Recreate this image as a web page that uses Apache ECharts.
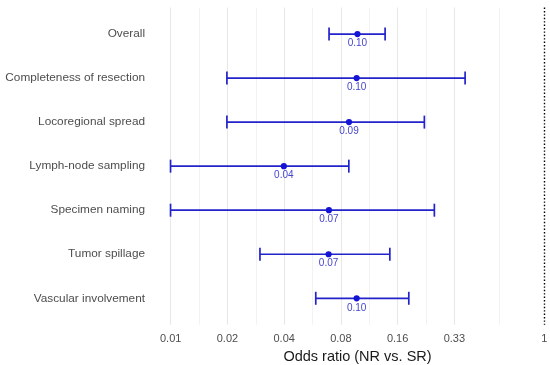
<!DOCTYPE html>
<html>
<head>
<meta charset="utf-8">
<script src="https://cdn.jsdelivr.net/npm/echarts@6/dist/echarts.min.js"></script>
<style>html,body{margin:0;padding:0;background:#fff}#c{width:550px;height:365px}</style>
</head>
<body>
<div id="c"></div>
<script>
// ---- data ----
const categories = ['Overall', 'Completeness of resection', 'Locoregional spread', 'Lymph-node sampling', 'Specimen naming', 'Tumor spillage', 'Vascular involvement'];
const oddsRatio = [0.102, 0.101, 0.092, 0.0415, 0.072, 0.0717, 0.101];
const ciLow = [0.0721, 0.0207, 0.0207, 0.0104, 0.0104, 0.031, 0.0613];
const ciHigh = [0.143, 0.380, 0.231, 0.0918, 0.261, 0.1515, 0.191];
const pointLabels = ['0.10', '0.10', '0.09', '0.04', '0.07', '0.07', '0.10'];
const tickValues = [1/96, 1/48, 1/24, 1/12, 1/6, 1/3, 1];
const tickLabels = ['0.01', '0.02', '0.04', '0.08', '0.16', '0.33', '1'];
const refValue = 1;

// log2 scale transform (axis in log space)
const tr = v => Math.log2(v * 96);
const majorU = tickValues.map(tr);
const minorU = [];
for (let i = 0; i < majorU.length - 1; i++) minorU.push((majorU[i] + majorU[i + 1]) / 2);
const span = majorU[majorU.length - 1] - majorU[0];
const pad = span * 0.05;

const barData = categories.map((c, i) => [i, tr(ciLow[i]), tr(oddsRatio[i]), tr(ciHigh[i])]);

const chart = echarts.init(document.getElementById('c'), null, {renderer: 'canvas'});
const FONT = '"Liberation Sans", Arial, sans-serif';
const BLUE = '#2323cc';

chart.setOption({
  animation: false,
  grid: {left: 152, top: 7.6, width: 411, bottom: 40.3, outerBoundsMode: 'none', containLabel: false},
  xAxis: {
    type: 'value',
    min: majorU[0] - pad,
    max: majorU[majorU.length - 1] + pad,
    axisLine: {show: false},
    axisTick: {show: false},
    splitLine: {show: false},
    axisLabel: {
      customValues: majorU,
      margin: 8.5,
      color: '#4d4d4d',
      fontSize: 11,
      fontFamily: FONT,
      formatter: v => {
        let k = 0, best = 1e9;
        majorU.forEach((u, j) => { const d = Math.abs(u - v); if (d < best) { best = d; k = j; } });
        return tickLabels[k];
      }
    },
    name: 'Odds ratio (NR vs. SR)',
    nameLocation: 'middle',
    nameGap: 25,
    nameTextStyle: {color: '#1a1a1a', fontSize: 14.5, fontFamily: FONT}
  },
  yAxis: {
    type: 'value',
    min: -0.6,
    max: categories.length - 1 + 0.6,
    inverse: true,
    axisLine: {show: false},
    axisTick: {show: false},
    splitLine: {show: false},
    axisLabel: {
      customValues: categories.map((c, i) => i),
      margin: 7,
      color: '#4d4d4d',
      fontSize: 11.8,
      fontFamily: FONT,
      formatter: v => categories[Math.round(v)]
    }
  },
  series: [
    {
      type: 'line',
      data: [],
      silent: true,
      z: 1,
      markLine: {
        silent: true,
        z: 1,
        symbol: ['none', 'none'],
        label: {show: false},
        lineStyle: {color: '#efefef', width: 0.8, type: 'solid'},
        data: minorU.map(u => ({xAxis: u}))
      }
    },
    {
      type: 'line',
      data: [],
      silent: true,
      z: 1,
      markLine: {
        silent: true,
        z: 1,
        symbol: ['none', 'none'],
        label: {show: false},
        lineStyle: {color: '#e8e8e8', width: 1.1, type: 'solid'},
        data: majorU.slice(0, -1).map(u => ({xAxis: u}))
      }
    },
    {
      type: 'line',
      data: [],
      silent: true,
      z: 1,
      markLine: {
        silent: true,
        z: 1,
        symbol: ['none', 'none'],
        label: {show: false},
        lineStyle: {color: '#000', width: 1.4, type: [1.4, 2]},
        data: [{xAxis: tr(refValue)}]
      }
    },
    {
      type: 'custom',
      z: 10,
      data: barData,
      renderItem: (params, api) => {
        const y = api.value(0);
        const lo = api.coord([api.value(1), y]);
        const pt = api.coord([api.value(2), y]);
        const hi = api.coord([api.value(3), y]);
        const cap = 6.5;
        const ls = {stroke: BLUE, lineWidth: 1.7};
        return {
          type: 'group',
          children: [
            {type: 'line', shape: {x1: lo[0], y1: lo[1], x2: hi[0], y2: hi[1]}, style: ls},
            {type: 'line', shape: {x1: lo[0], y1: lo[1] - cap, x2: lo[0], y2: lo[1] + cap}, style: ls},
            {type: 'line', shape: {x1: hi[0], y1: hi[1] - cap, x2: hi[0], y2: hi[1] + cap}, style: ls},
            {type: 'circle', shape: {cx: pt[0], cy: pt[1], r: 3.1}, style: {fill: '#1414d6'}},
            {type: 'text', style: {text: pointLabels[params.dataIndex], x: pt[0], y: pt[1] + 9.5, align: 'center', verticalAlign: 'middle', fill: '#4545cf', font: '10px ' + FONT}}
          ]
        };
      }
    }
  ]
});
</script>
</body>
</html>
